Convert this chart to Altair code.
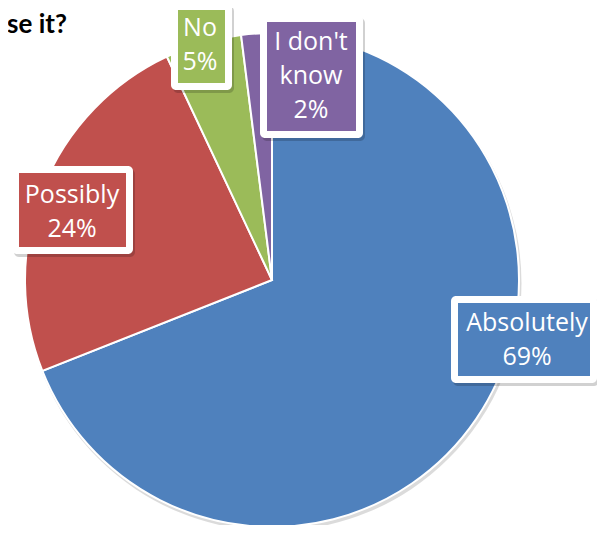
import altair as alt
import pandas as pd

# ---- data ----
categories = ["Absolutely", "Possibly", "No", "I don't know"]
percentages = [69, 24, 5, 2]
label_texts = ["Absolutely\n69%", "Possibly\n24%", "No\n5%", "I don't\nknow\n2%"]
colors = ["#4F81BD", "#C0504D", "#9BBB59", "#8064A2"]
title_text = "se it?"

# ---- layout (pixels, chart coordinates) ----
W, H = 589, 517
CX, CY, R = 264, 272, 247
# label box: outer left, top, right, bottom ; text center x ; first baseline y
label_boxes = {
    "Absolutely": (443, 288, 589, 375, 519, 323),
    "Possibly": (4, 158, 125, 246, 64, 195),
    "No": (163, -5, 224, 82, 192, 28),
    "I don't know": (252, 7, 355, 130, 303, 42),
}
INSET = 7
FONT = "Open Sans"

pie_df = pd.DataFrame({"category": categories, "pct": percentages,
                       "order": list(range(len(categories)))})

rows = []
for c, t in zip(categories, label_texts):
    x0, y0, x1, y1, tx, ty = label_boxes[c]
    rows.append(dict(category=c, text=t, x0=x0, y0=y0, x1=x1, y1=y1,
                     ix0=x0 + INSET, iy0=y0 + INSET, ix1=x1 - INSET, iy1=y1 - INSET,
                     sx0=x0 + 2, sy0=y0 + 3, sx1=x1 + 2, sy1=y1 + 3, tx=tx, ty=ty))
lab_df = pd.DataFrame(rows)

color_scale = alt.Scale(domain=categories, range=colors)

shadow = alt.Chart(pd.DataFrame({"v": [100]})).mark_arc(
    radius=R + 1, color="#000000", opacity=0.14
).encode(theta=alt.Theta("v:Q"), x=alt.value(CX + 1.5), y=alt.value(CY + 3))

pie = alt.Chart(pie_df).mark_arc(radius=R, stroke="white", strokeWidth=2).encode(
    theta=alt.Theta("pct:Q", stack=True),
    order=alt.Order("order:Q"),
    color=alt.Color("category:N", scale=color_scale, legend=None),
    x=alt.value(CX), y=alt.value(CY),
)

box_shadow = alt.Chart(lab_df).mark_rect(color="#000000", opacity=0.18, cornerRadius=5).encode(
    x=alt.X("sx0:Q", scale=None), x2="sx1:Q", y=alt.Y("sy0:Q", scale=None), y2="sy1:Q")
box = alt.Chart(lab_df).mark_rect(color="white", cornerRadius=5).encode(
    x=alt.X("x0:Q", scale=None), x2="x1:Q", y=alt.Y("y0:Q", scale=None), y2="y1:Q")
inner = alt.Chart(lab_df).mark_rect().encode(
    x=alt.X("ix0:Q", scale=None), x2="ix1:Q", y=alt.Y("iy0:Q", scale=None), y2="iy1:Q",
    color=alt.Color("category:N", scale=color_scale, legend=None))
text = alt.Chart(lab_df).mark_text(
    font=FONT, fontSize=25, color="white", align="center", baseline="alphabetic",
    lineBreak="\n", lineHeight=34
).encode(x=alt.X("tx:Q", scale=None), y=alt.Y("ty:Q", scale=None), text="text:N")

title = alt.Chart(pd.DataFrame({"t": [title_text]})).mark_text(
    font="Lato", fontSize=26, fontWeight="bold", color="black", align="left",
    baseline="alphabetic"
).encode(x=alt.value(-1), y=alt.value(24.5), text="t:N")

chart = alt.layer(shadow, pie, box_shadow, box, inner, text, title).resolve_scale(
    theta="independent"
).properties(
    width=W, height=H, padding=0, autosize=alt.AutoSizeParams(type="none")
).configure_view(stroke=None)

chart.save("out.html", embed_options={"renderer": "svg", "actions": False})
